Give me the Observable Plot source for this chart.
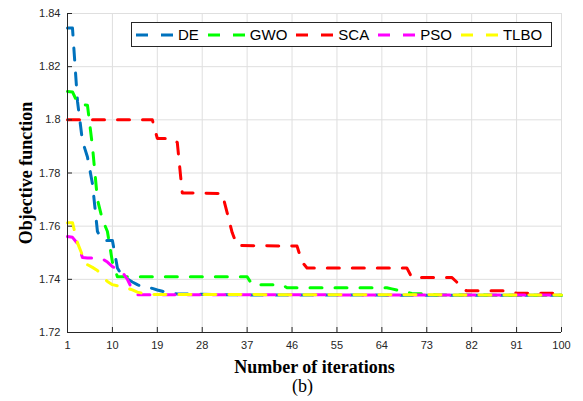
<!DOCTYPE html>
<html><head><meta charset="utf-8">
<script src="https://cdn.jsdelivr.net/npm/d3@7"></script>
<script src="https://cdn.jsdelivr.net/npm/@observablehq/plot@0.6"></script>
<style>
body{margin:0;background:#fff;}
#wrap{position:relative;width:583px;height:401px;}
#legend{position:absolute;left:131px;top:22px;width:421px;height:25px;border:1px solid #262626;background:#fff;display:flex;align-items:center;padding-left:4px;box-sizing:border-box;font:15px "Liberation Sans",Arial,sans-serif;color:#000;}
.item{display:flex;align-items:center;margin-right:9px;}
.item svg{margin-right:4px;}
</style></head><body><div id="wrap"></div>
<script>
const seriesNames = ["DE","GWO","SCA","PSO","TLBO"];
const seriesColors = ["#0072BD","#00FF00","#FF0000","#FF00FF","#FFFF00"];
const xTicks = [1,10,19,28,37,46,55,64,73,82,91,100];
const yTicks = [1.72,1.74,1.76,1.78,1.80,1.82,1.84];
const yTickLabels = ["1.72","1.74","1.76","1.78","1.8","1.82","1.84"];

// [iteration, objective]
const DE = [[1,1.8345],[2,1.8345],[3,1.807],[4,1.792],[5,1.786],[6,1.776],[7,1.758],[8,1.7546],[9,1.7546],[10,1.7546],[11,1.7443],[12,1.7412],[13,1.7402],[14,1.739],[15,1.738],[16,1.7372],[17,1.737],[18,1.7366],[19,1.736],[20,1.7355],[21,1.735],[22,1.7347],[23,1.7345],[30,1.7343],[40,1.7341],[100,1.734]];
const GWO = [[1,1.8107],[2,1.8105],[3,1.8065],[4,1.8057],[5,1.8055],[6,1.790],[7,1.770],[8,1.7625],[9,1.758],[10,1.7465],[11,1.741],[37,1.741],[38,1.738],[44,1.738],[45,1.7368],[65,1.7368],[66,1.7364],[68,1.7356],[70,1.7347],[73,1.7345],[75,1.7341],[100,1.734]];
const SCA = [[1,1.800],[18,1.800],[19,1.793],[22,1.793],[23,1.7915],[24,1.7725],[32,1.7723],[33,1.765],[34,1.7576],[35,1.7527],[47,1.7525],[48,1.7465],[49,1.7443],[69,1.7443],[70,1.7407],[78,1.7407],[79,1.739],[80,1.7365],[81,1.7357],[89,1.7357],[90,1.7352],[91,1.7348],[100,1.7348]];
const PSO = [[1,1.7561],[2,1.7558],[3,1.7535],[4,1.7482],[5,1.748],[6,1.748],[7,1.748],[8,1.7477],[9,1.7465],[10,1.7448],[11,1.7438],[12,1.7427],[13,1.740],[14,1.736],[15,1.7342],[100,1.7341]];
const TLBO = [[1,1.7613],[2,1.7613],[3,1.7537],[4,1.749],[5,1.7455],[6,1.7445],[7,1.7433],[8,1.741],[9,1.7392],[10,1.738],[11,1.7376],[12,1.737],[13,1.7367],[14,1.736],[15,1.7352],[16,1.7348],[17,1.7345],[18,1.7343],[100,1.7341]];

const allSeries = [DE,GWO,SCA,PSO,TLBO];
const rows = [];
allSeries.forEach((s,i)=>s.forEach(([it,v])=>rows.push({name:seriesNames[i],it,v})));

const W=583,H=401,mL=67,mR=22,mT=13,mB=69;
const innerH = H-mT-mB, innerW = W-mL-mR;
const axisColor="#262626", gridColor="#dfdfdf";
const serif="'Liberation Serif','Times New Roman',serif";

const chart = Plot.plot({
  width:W,height:H,marginLeft:mL,marginRight:mR,marginTop:mT,marginBottom:mB,
  x:{domain:[1,100]},
  y:{domain:[1.72,1.84]},
  color:{domain:seriesNames,range:seriesColors},
  style:{fontFamily:"'Liberation Sans',Arial,sans-serif",fontSize:"11px",color:axisColor,background:"#fff"},
  marks:[
    Plot.gridX(xTicks,{stroke:gridColor,strokeOpacity:1}),
    Plot.gridY(yTicks,{stroke:gridColor,strokeOpacity:1}),
    Plot.line(rows,{x:"it",y:"v",z:"name",stroke:"name",strokeWidth:3,strokeDasharray:"12,13"}),
    Plot.ruleX(xTicks,{stroke:axisColor,insetTop:innerH-5}),
    Plot.ruleY(yTicks,{stroke:axisColor,insetRight:innerW-5}),
    Plot.ruleY([1.72],{stroke:axisColor}),
    Plot.ruleX([1],{stroke:axisColor}),
    Plot.axisX(xTicks,{tickSize:0,tickPadding:9,label:null,fill:axisColor}),
    Plot.axisY(yTicks,{tickSize:0,tickPadding:7,label:null,fill:axisColor,tickFormat:(d)=>yTickLabels[yTicks.indexOf(d)]}),
    Plot.text(["Objective function"],{frameAnchor:"left",textAnchor:"middle",lineAnchor:"middle",rotate:-90,dx:-41,fontSize:18,fontWeight:"bold",fontFamily:serif,fill:"#000"}),
    Plot.text(["Number of iterations"],{frameAnchor:"bottom",textAnchor:"middle",lineAnchor:"middle",dy:35,fontSize:18,fontWeight:"bold",fontFamily:serif,fill:"#000"}),
    Plot.text(["(b)"],{frameAnchor:"bottom",textAnchor:"middle",lineAnchor:"middle",dy:54,dx:-12,fontSize:18,fontFamily:serif,fill:"#000"})
  ]
});
const wrap=document.getElementById("wrap");
wrap.appendChild(chart);

const legend=document.createElement("div");
legend.id="legend";
seriesNames.forEach((n,i)=>{
  const it=document.createElement("div");it.className="item";
  it.innerHTML=`<svg width="38" height="6"><line x1="0" y1="3" x2="38" y2="3" stroke="${seriesColors[i]}" stroke-width="3" stroke-dasharray="12,13"/></svg><span>${n}</span>`;
  legend.appendChild(it);
});
wrap.appendChild(legend);
</script></body></html>
